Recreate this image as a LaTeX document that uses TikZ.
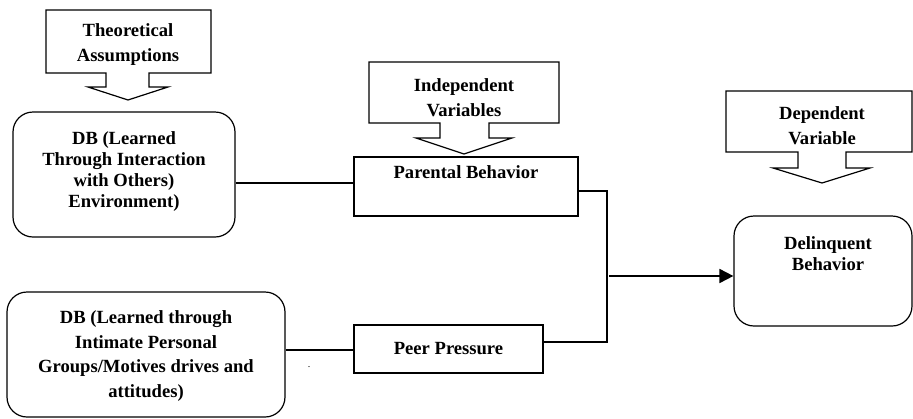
\documentclass[tikz,border=0pt]{standalone}
\usepackage{fontspec}
\setmainfont{Liberation Serif}
\usetikzlibrary{arrows.meta}
\begin{document}
\begin{tikzpicture}[x=1pt,y=-1pt,
  line width=1.2pt, line join=miter,
  every node/.style={font=\bfseries\fontsize{18.6}{21}\selectfont},
  rbox/.style={draw, rounded corners=20pt, inner sep=0pt, align=center},
  sbox/.style={draw, rectangle, inner sep=0pt, align=center},
  txt/.style={inner sep=0pt, align=center},
  callout/.style={draw, line width=1.2pt, line join=miter}]
\useasboundingbox (0,0) rectangle (913,418);

% callout shapes
\draw[callout] (46,10) -- (211,10) -- (211,73) -- (149,73) -- (149,87) -- (168,87)
  -- (128,100) -- (88,87) -- (106,87) -- (106,73) -- (46,73) -- cycle;
\node[txt, font=\bfseries\fontsize{18.6}{25}\selectfont] (ta) at (128,44.5) {Theoretical\\Assumptions};

\draw[callout] (369,62) -- (559,62) -- (559,123) -- (489,123) -- (489,138) -- (512,138)
  -- (464,154) -- (416,138) -- (440,138) -- (440,123) -- (369,123) -- cycle;
\node[txt, font=\bfseries\fontsize{18.6}{25}\selectfont] (iv) at (464,97.5) {Independent\\Variables};

\draw[callout] (726,91) -- (912,91) -- (912,152) -- (846,152) -- (846,168) -- (870,168)
  -- (822,183) -- (773,168) -- (798,168) -- (798,152) -- (726,152) -- cycle;
\node[txt, font=\bfseries\fontsize{18.6}{25}\selectfont] (dv) at (822,125.5) {Dependent\\Variable};

% boxes
\node[rbox, minimum width=222pt, minimum height=125pt] (db1) at (124,174.5) {};
\node[txt] (db1t) at (124,171.5) {DB (Learned\\Through Interaction\\with Others)\\Environment)};

\node[sbox, minimum width=224pt, minimum height=59pt] (pb) at (466,186.5) {};
\node[txt] (pbt) at (466,172) {Parental Behavior};

\node[rbox, minimum width=278pt, minimum height=125pt] (db2) at (146,354.5) {};
\node[txt, font=\bfseries\fontsize{18.6}{24.7}\selectfont] (db2t) at (146,356)
  {DB (Learned through\\Intimate Personal\\Groups/Motives drives and\\attitudes)};

\node[sbox, minimum width=189pt, minimum height=48pt] (pp) at (448.5,349) {Peer Pressure};

\node[rbox, minimum width=178pt, minimum height=110pt] (dl) at (823,271) {};
\node[txt] (dlt) at (828,254) {Delinquent\\Behavior};

\node[txt, font=\normalfont\fontsize{10}{10}\selectfont] (dot) at (309,367) {.};

% connectors
\coordinate (j1) at (607,191);
\coordinate (j2) at (607,342);
\coordinate (a0) at (609,276);
\draw (db1.east |- 0,183) -- (pb.west |- 0,183);
\draw (pb.east |- j1) -- (j1) -- (j2) -- (pp.east |- j2);
\draw (db2.east |- 0,350) -- (pp.west |- 0,350);
\draw[line width=1.8pt, -{Triangle[length=14pt,width=14pt]}] (a0) -- (dl.west |- a0);
\end{tikzpicture}
\end{document}
